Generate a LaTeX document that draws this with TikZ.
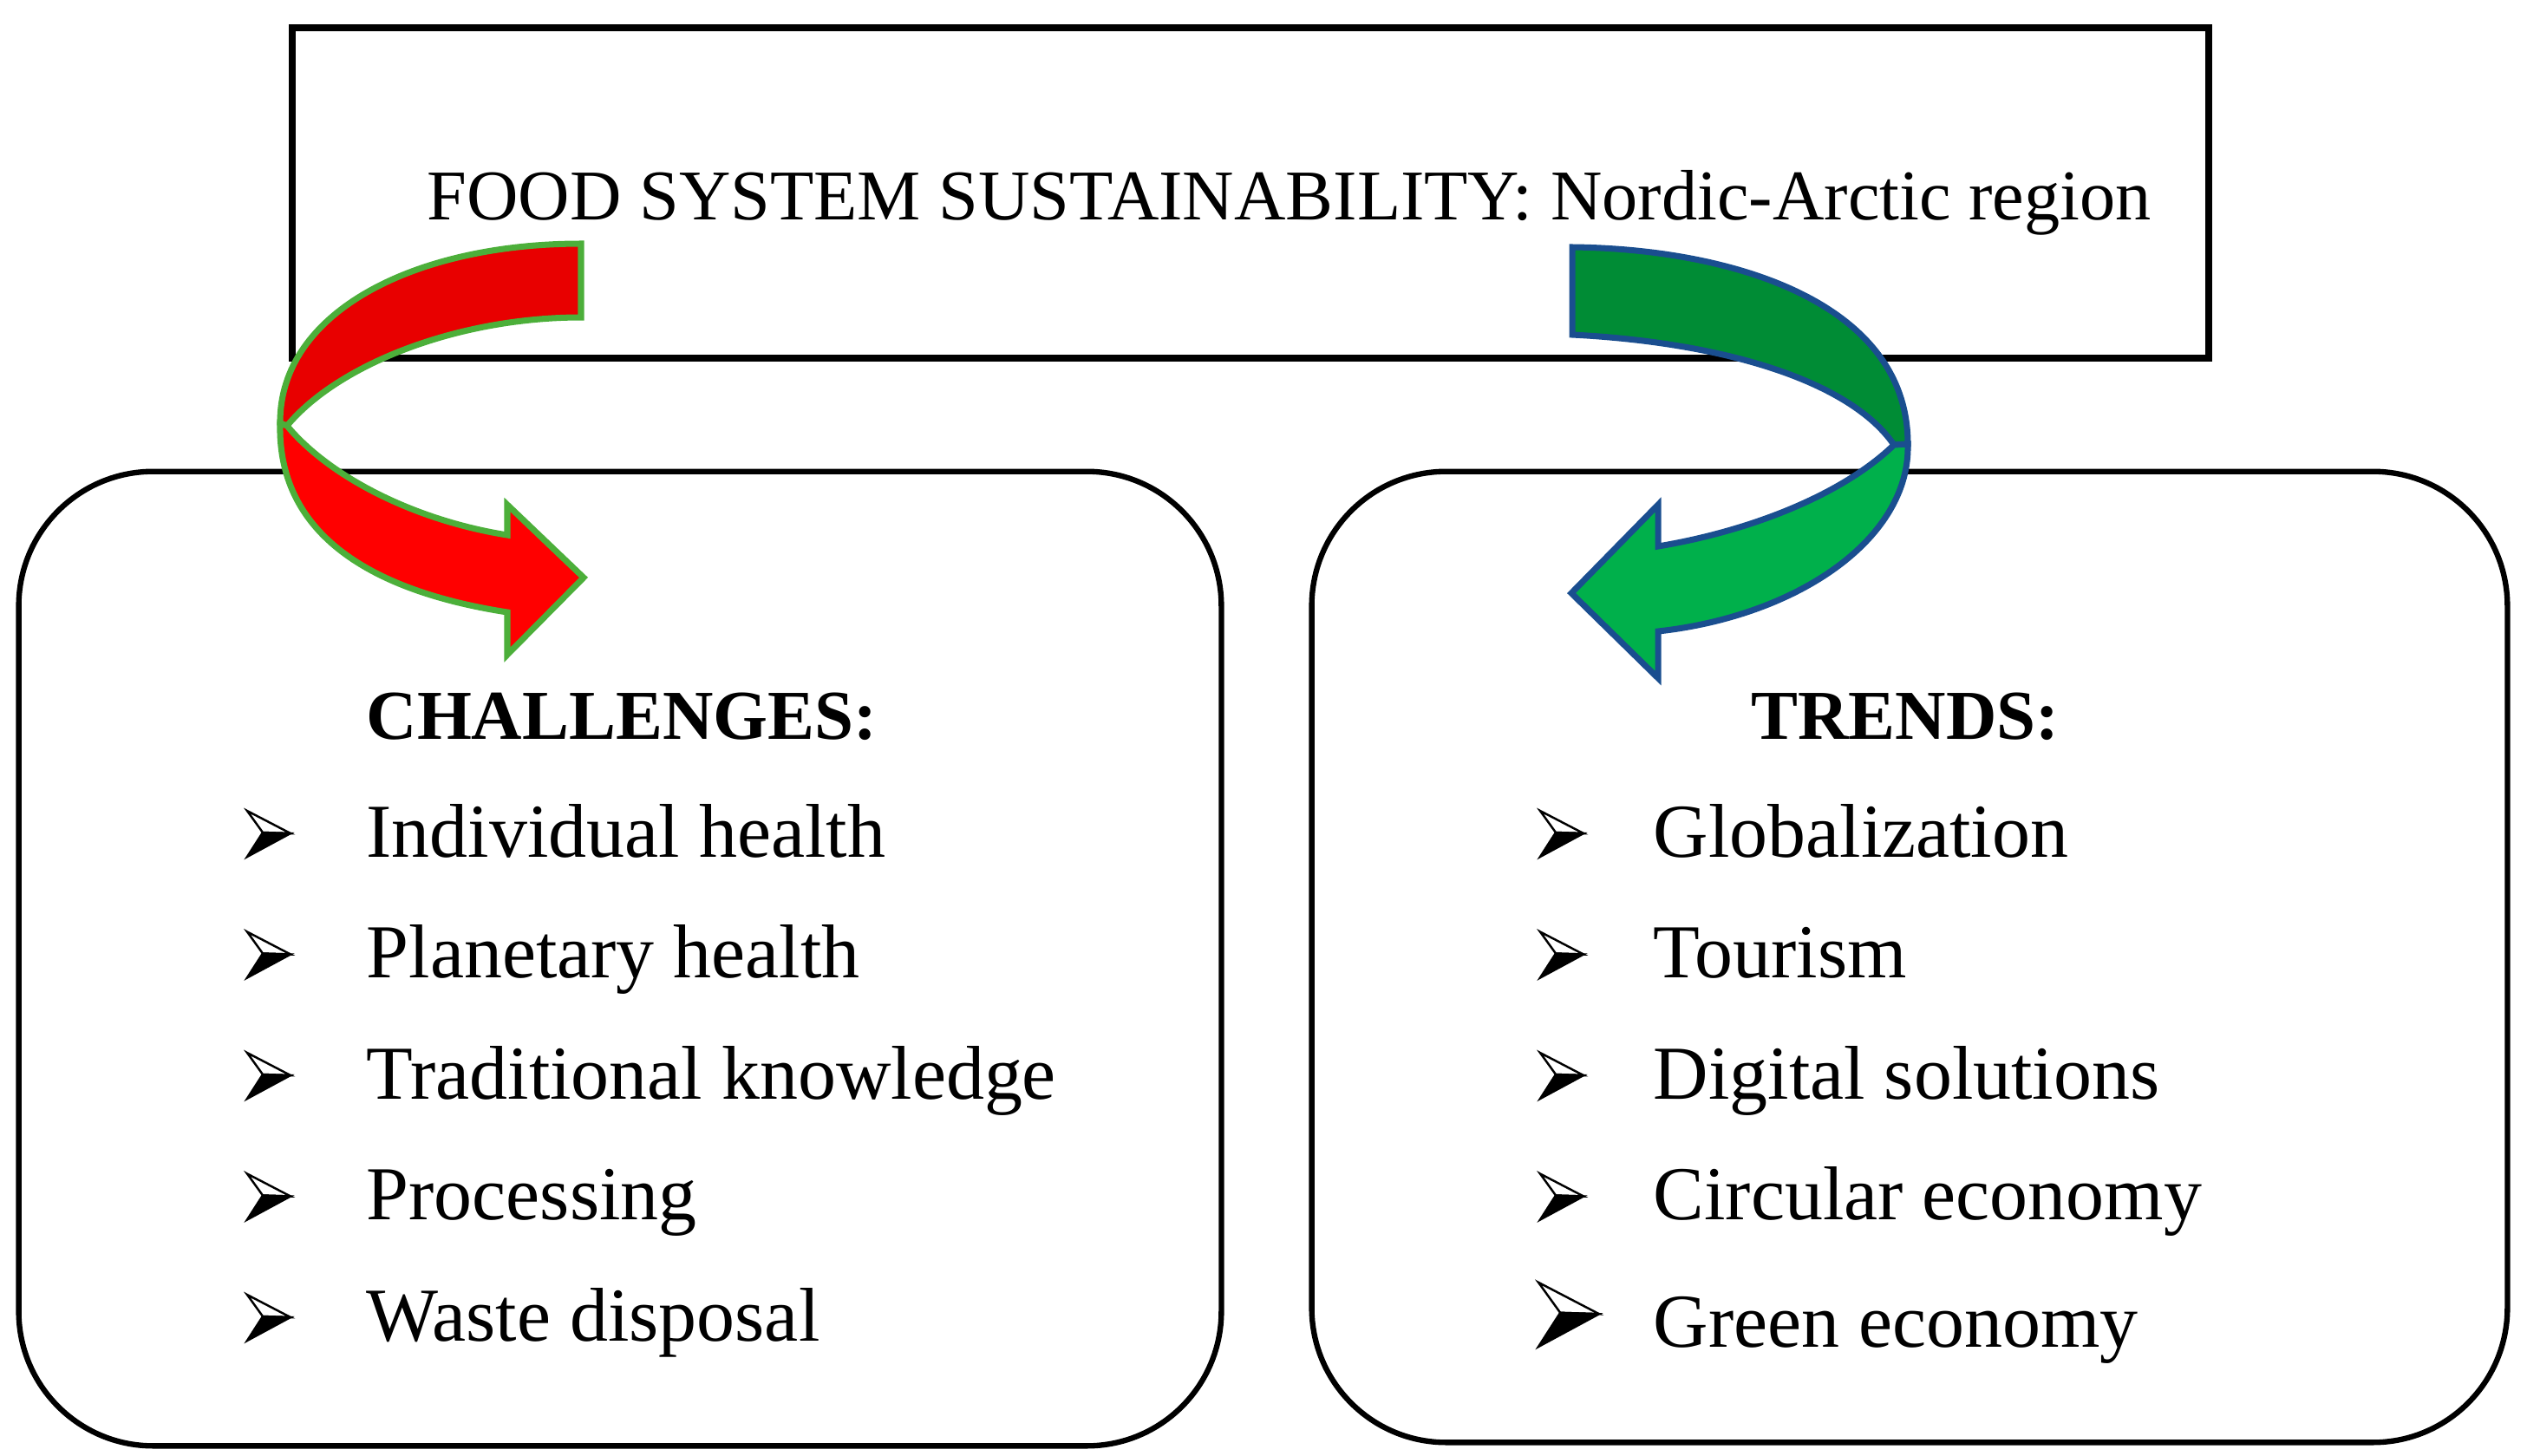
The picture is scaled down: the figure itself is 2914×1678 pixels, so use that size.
\documentclass[tikz,border=0pt]{standalone}
\usepackage{fontspec}
\setmainfont{Liberation Serif}
\definecolor{redtop}{HTML}{E80000}
\definecolor{redlow}{HTML}{FF0000}
\definecolor{redline}{HTML}{4CAF3A}
\definecolor{greentop}{HTML}{008C35}
\definecolor{greenlow}{HTML}{00B04B}
\definecolor{blueline}{HTML}{1A4E8F}
\tikzset{
  topbox/.style={draw=black, line width=2.2pt, minimum width=22.08cm, minimum height=3.81cm, inner sep=0pt},
  roundbox/.style={draw=black, line width=1.8pt, rounded corners=1.55cm, inner sep=0pt},
  itemtext/.style={anchor=base west, inner sep=0pt, font=\fontsize{25}{29}\selectfont},
  headtext/.style={anchor=base, inner sep=0pt, font=\fontsize{23}{27}\selectfont\bfseries},
  titletext/.style={anchor=base west, inner sep=0pt, font=\fontsize{23.4}{27}\selectfont},
  redband/.style={line width=2pt, draw=redline, line join=miter},
  greenband/.style={line width=2pt, draw=blueline, line join=miter},
  bulletmark/.pic={
    \filldraw[line width=0.7pt, fill=white, line join=miter] (0,-53) -- (50,-27) -- (18,-28) -- cycle;
    \filldraw[line width=0.7pt, line join=miter] (18,-28) -- (50,-27) -- (0,0) -- cycle;
  }
}
\begin{document}
\begin{tikzpicture}[x=0.01cm, y=-0.01cm]
\useasboundingbox (0,0) rectangle (2914,1678);
% boxes
\node[topbox] (top) at (1442,222.5) {};
\node[roundbox, minimum width=13.86cm, minimum height=11.23cm] (left) at (715,1105.5) {};
\node[roundbox, minimum width=13.78cm, minimum height=11.19cm] (right) at (2202,1103.5) {};
% title
\node[titletext] (title) at (492,253) {FOOD SYSTEM SUSTAINABILITY: Nordic-Arctic region};
% headings
\node[headtext] (chal) at (717,852) {CHALLENGES:};
\node[headtext] (trend) at (2197,852) {TRENDS:};
% left list
\foreach \t [count=\i] in {Individual health, Planetary health, Traditional knowledge, Processing, Waste disposal}{
  \pgfmathsetmacro{\yy}{988+139.5*(\i-1)}
  \node[itemtext] (L\i) at (422,\yy) {\t};
  \pic at (285,\yy) {bulletmark};
}
% right list
\foreach \t [count=\i] in {Globalization, Tourism, Digital solutions, Circular economy}{
  \pgfmathsetmacro{\yy}{988+139.5*(\i-1)}
  \node[itemtext] (R\i) at (1906,\yy) {\t};
  \pic at (1776,\yy) {bulletmark};
}
\node[itemtext] (R5) at (1906,1553) {Green economy};
\pic[scale=1.4] at (1774,1553) {bulletmark};
% red arrow
\filldraw[redband, fill=redtop] (670,281) .. controls (478,281) and (322,360) .. (323,488)
  -- (331,491) .. controls (390,420) and (528,366) .. (670,366) -- cycle;
\filldraw[redband, fill=redlow] (323,488) .. controls (320,610) and (418,680) .. (585,706)
  -- (585,755) -- (673,666) -- (585,582) -- (585,617)
  .. controls (478,600) and (380,550) .. (331,491) -- cycle;
% green arrow
\filldraw[greenband, fill=greentop] (1813,285) .. controls (2000,287) and (2200,350) .. (2200,512)
  -- (2184,513) .. controls (2134,440) and (1990,395) .. (1813,386) -- cycle;
\filldraw[greenband, fill=greenlow] (2200,512) .. controls (2203,620) and (2075,710) .. (1912,728)
  -- (1912,782) -- (1812,684) -- (1912,582) -- (1912,630)
  .. controls (2020,612) and (2125,570) .. (2184,513) -- cycle;
\end{tikzpicture}
\end{document}
